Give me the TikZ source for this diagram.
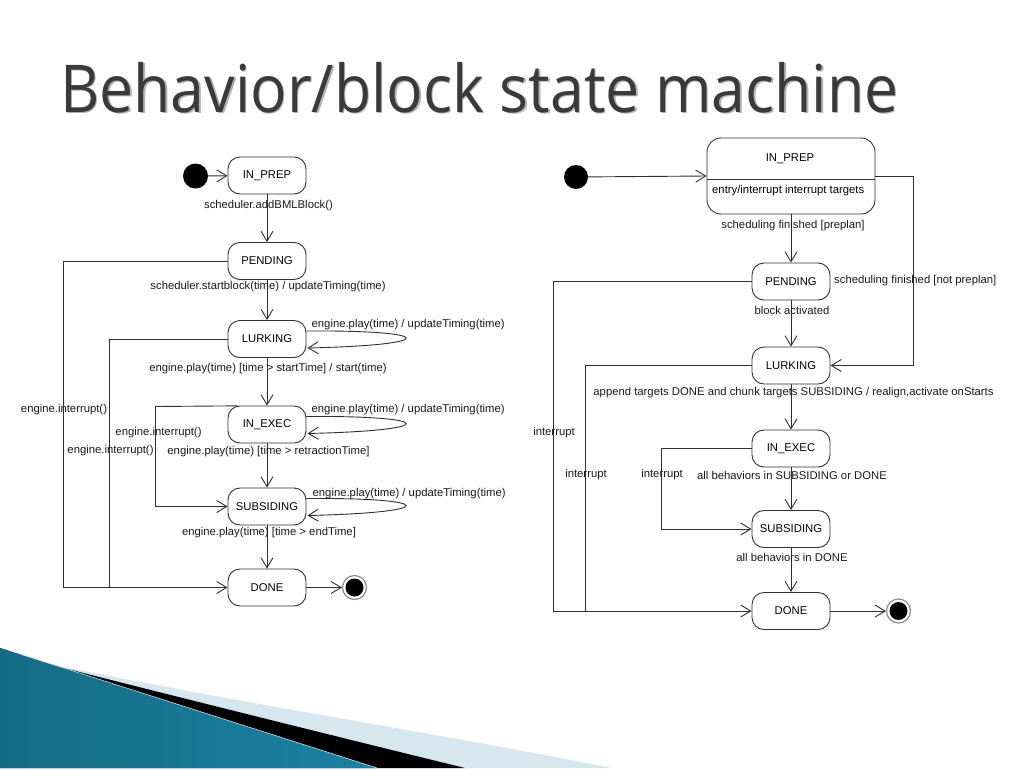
\documentclass[tikz,border=0pt]{standalone}
\usepackage{fontspec}
\usetikzlibrary{arrows.meta,calc}
\newfontfamily\diagfont{Liberation Sans}
\newfontfamily\titlefont{Open Sans}
\definecolor{lncol}{HTML}{303030}
\definecolor{titlegray}{HTML}{3A3A3A}
\definecolor{tealA}{HTML}{166C86}
\definecolor{tealB}{HTML}{4DB0D0}
\definecolor{tealC}{HTML}{1B82A2}
\definecolor{lightband}{HTML}{D6E7F0}
\begin{document}
\begin{tikzpicture}[x=1pt,y=-1pt,
  dfont/.style={font=\diagfont\fontsize{11.3}{13}\selectfont},
  state/.style={dfont, draw=lncol, line width=0.9pt, rounded corners=12pt,
    minimum width=78pt, minimum height=37pt, inner sep=0pt},
  lbl/.style={dfont, inner sep=1pt, text=black!90},
  loopl/.style={dfont, inner sep=0pt, anchor=west, text=black!90},
  wire/.style={draw=lncol, line width=0.9pt},
  arr/.style={wire, -{Straight Barb[length=10pt,width=12pt,line width=0.9pt]}},
  initdot/.style={circle, fill=black, minimum size=25pt, inner sep=0pt},
  finring/.style={circle, draw=black!45, line width=1.2pt, fill=white, minimum size=24pt, inner sep=0pt},
]
\useasboundingbox (0,0) rectangle (1024,768);
\fill[white] (0,0) rectangle (1024,768);

% ---------- decoration bottom left ----------
\fill[lightband] (0,648) -- (60,666) .. controls (250,705) and (420,730) .. (612,768) -- (0,768) -- cycle;
\fill[black] (0,648) -- (52,665) .. controls (150,690) and (330,735) .. (465,768) -- (0,768) -- cycle;
\shade[left color=tealA, middle color=tealB, right color=tealC]
  (0,648) -- (377,768) -- (0,768) -- cycle;
\draw[cyan!25!white, line width=0.6pt] (20,654) -- (377,768);

% ---------- title ----------
\node[anchor=base west, inner sep=0pt, text=black!30] at (61.5,113.5)
  {\titlefont\fontsize{66}{70}\selectfont\scalebox{0.92}[1]{Behavior/block state machine}};
\node[anchor=base west, inner sep=0pt, text=titlegray] (title) at (60,112)
  {\titlefont\fontsize{66}{70}\selectfont\scalebox{0.92}[1]{Behavior/block state machine}};

% ================= LEFT DIAGRAM =================
\node[initdot] (li) at (195.5,176) {};
\node[state] (lp)  at (267,175.5) {IN\_PREP};
\node[state] (lpe) at (267,261)   {PENDING};
\node[state] (llk) at (267,339)   {LURKING};
\node[state] (lex) at (267,424.5) {IN\_EXEC};
\node[state] (lsu) at (267,506.5) {SUBSIDING};
\node[state] (ldo) at (267,587.5) {DONE};
\node[finring] (lf) at (354.5,587.5) {};
\node[circle, fill=black, minimum size=18pt, inner sep=0pt] (lfc) at (lf) {};

\draw[arr] (li) -- (lp);
\draw[arr] (lp) -- (lpe);
\draw[arr] (lpe) -- (llk);
\draw[arr] (llk) -- (lex);
\draw[arr] (lex) -- (lsu);
\draw[arr] (lsu) -- (ldo);
\draw[arr] (ldo) -- (lf);

% self loops
\foreach \n in {llk,lex,lsu}{
  \draw[arr] ($(\n.east)+(0,-8)$) .. controls +(130,-1) and +(134,-3) .. ($(\n.east)+(1,9)$);
}
\node[loopl] (lll) at ($(llk.east)+(5,-14)$) {engine.play(time) / updateTiming(time)};
\node[loopl] (lel) at ($(lex.east)+(5,-15)$) {engine.play(time) / updateTiming(time)};
\node[loopl] (lsl) at ($(lsu.east)+(6,-13)$) {engine.play(time) / updateTiming(time)};

% interrupt paths
\coordinate (lc1) at (63,261);
\coordinate (lc2) at (109.5,339);
\coordinate (lc3) at (155.5,406.5);
\draw[arr] (lpe.west) -- (lc1) |- (ldo.west);
\draw[wire] (llk.west) -- (lc2) -- (lc2 |- ldo.west);
\draw[arr] ($(lex.north west)+(10,0.3)$) -- (lc3) |- (lsu.west);

% labels
\node[lbl] (t1) at (268.5,206) {scheduler.addBMLBlock()};
\node[lbl] (t2) at (268,287) {scheduler.startblock(time) / updateTiming(time)};
\node[lbl] (t3) at (268,369) {engine.play(time) [time > startTime] / start(time)};
\node[lbl] (t4) at (268.5,452) {engine.play(time) [time > retractionTime]};
\node[lbl] (t5) at (269,533) {engine.play(time) [time > endTime]};
\node[lbl] (t6) at (64,410) {engine.interrupt()};
\node[lbl] (t7) at (110.5,451) {engine.interrupt()};
\node[lbl] (t8) at (158.5,433) {engine.interrupt()};

% ================= RIGHT DIAGRAM =================
\node[initdot, minimum size=24pt] (ri) at (576,177) {};
\node[state, minimum width=168pt, minimum height=76pt, rounded corners=14pt] (rp) at (791,176) {};
\draw[wire] ($(rp.west)+(0,3)$) -- ($(rp.east)+(0,3)$);
\node[dfont, inner sep=0pt] (rpt) at (790,159) {IN\_PREP};
\node[dfont, inner sep=0pt, anchor=west] (rpen) at (712,191) {entry/interrupt interrupt targets};
\node[state] (rpe) at (791,281.5) {PENDING};
\node[state] (rlk) at (791,365.5) {LURKING};
\node[state] (rex) at (791,448.5) {IN\_EXEC};
\node[state] (rsu) at (791,529)   {SUBSIDING};
\node[state] (rdo) at (791,611)   {DONE};
\node[finring] (rf) at (898.5,611) {};
\node[circle, fill=black, minimum size=18pt, inner sep=0pt] (rfc) at (rf) {};

\draw[arr] (ri) -- (rp.west);
\draw[arr] (rp) -- (rpe);
\draw[arr] (rpe) -- (rlk);
\draw[arr] (rlk) -- (rex);
\draw[arr] (rex) -- (rsu);
\draw[arr] (rsu) -- (rdo);
\draw[arr] (rdo) -- (rf);

\coordinate (rc0) at (913,176);
\coordinate (rc1) at (553,281.5);
\coordinate (rc2) at (585.5,365.5);
\coordinate (rc3) at (661,448.5);
\draw[arr] (rp.east) -- (rc0) |- (rlk.east);
\draw[arr] (rpe.west) -- (rc1) |- (rdo.west);
\draw[wire] (rlk.west) -- (rc2) -- (rc2 |- rdo.west);
\draw[arr] (rex.west) -- (rc3) |- (rsu.west);

\node[lbl] (s1) at (793,226) {scheduling finished [preplan]};
\node[loopl] (s2) at (834,281) {scheduling finished [not preplan]};
\node[lbl] (s3) at (792,310) {block activated};
\node[lbl] (s4) at (793.5,393) {append targets DONE and chunk targets SUBSIDING / realign,activate onStarts};
\node[lbl] (s5) at (792,475) {all behaviors in SUBSIDING or DONE};
\node[lbl] (s6) at (792,557) {all behaviors in DONE};
\node[lbl] (s7) at (554,433) {interrupt};
\node[lbl] (s8) at (586,475) {interrupt};
\node[lbl] (s9) at (662,475) {interrupt};
\end{tikzpicture}
\end{document}
